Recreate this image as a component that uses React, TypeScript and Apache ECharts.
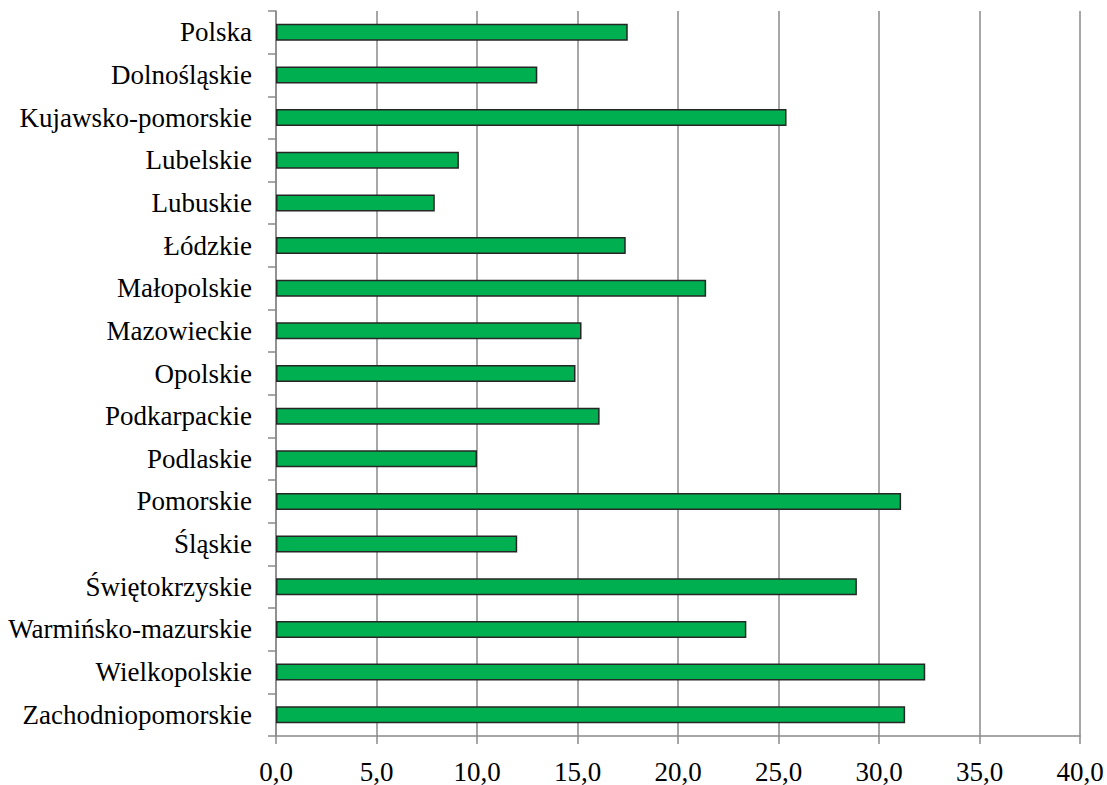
import React, { useEffect, useRef } from "react";
import * as echarts from "echarts";

const categories: string[] = [
  "Polska",
  "Dolnośląskie",
  "Kujawsko-pomorskie",
  "Lubelskie",
  "Lubuskie",
  "Łódzkie",
  "Małopolskie",
  "Mazowieckie",
  "Opolskie",
  "Podkarpackie",
  "Podlaskie",
  "Pomorskie",
  "Śląskie",
  "Świętokrzyskie",
  "Warmińsko-mazurskie",
  "Wielkopolskie",
  "Zachodniopomorskie",
];

const values: number[] = [
  17.5, 13.0, 25.4, 9.1, 7.9, 17.4, 21.4, 15.2, 14.9, 16.1, 10.0, 31.1, 12.0, 28.9, 23.4, 32.3, 31.3,
];

const xMin = 0;
const xMax = 40;
const xStep = 5;

const FONT = "'Liberation Serif', 'Times New Roman', serif";

export default function App() {
  const ref = useRef<HTMLDivElement>(null);

  useEffect(() => {
    if (!ref.current) return;
    const chart = echarts.init(ref.current, undefined, { renderer: "svg" });
    chart.setOption({
      animation: false,
      backgroundColor: "#ffffff",
      grid: { left: 276, right: 27, top: 11, bottom: 48, containLabel: false },
      xAxis: {
        type: "value",
        min: xMin,
        max: xMax,
        interval: xStep,
        axisLine: { show: true, lineStyle: { color: "#8a8a8a", width: 1.5 } },
        axisTick: { show: true, length: 8, lineStyle: { color: "#8a8a8a", width: 1.5 } },
        splitLine: { show: true, lineStyle: { color: "#8a8a8a", width: 1.5 } },
        axisLabel: {
          margin: 22,
          color: "#000",
          fontFamily: FONT,
          fontSize: 27,
          formatter: (v: number) => v.toFixed(1).replace(".", ","),
        },
      },
      yAxis: {
        type: "category",
        data: categories,
        inverse: true,
        axisLine: { show: true, lineStyle: { color: "#8a8a8a", width: 1.5 } },
        axisTick: { show: true, length: 8, alignWithLabel: false, lineStyle: { color: "#8a8a8a", width: 1.5 } },
        splitLine: { show: false },
        axisLabel: {
          margin: 24,
          color: "#000",
          fontFamily: FONT,
          fontSize: 27,
        },
      },
      series: [
        {
          type: "bar",
          data: values,
          barWidth: 17,
          itemStyle: { color: "#00b050", borderColor: "#262626", borderWidth: 1.5 },
        },
      ],
    });
    return () => chart.dispose();
  }, []);

  return <div ref={ref} style={{ width: 1107, height: 785, position: "absolute", left: 0, top: 0 }} />;
}
